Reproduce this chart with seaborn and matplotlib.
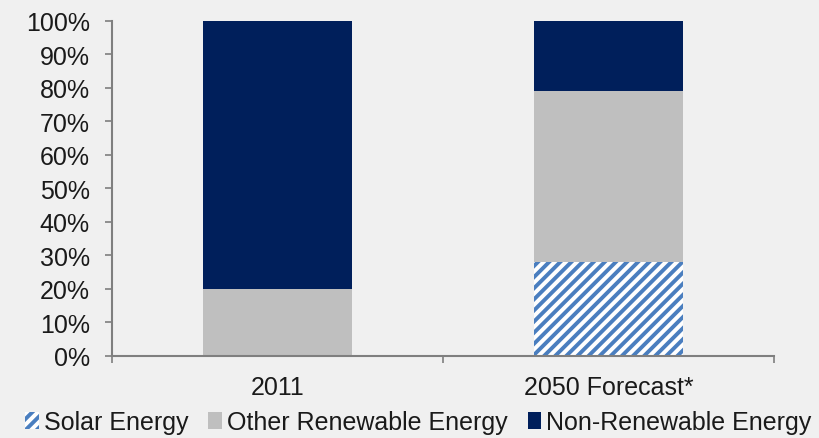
import matplotlib
matplotlib.use("Agg")
import matplotlib.pyplot as plt
import seaborn as sns
import pandas as pd
import numpy as np
from matplotlib.patches import Patch
from matplotlib.ticker import FuncFormatter

categories = ["2011", "2050 Forecast*"]
solar = [0, 28]
other_renewable = [20, 51]
non_renewable = [80, 21]
series_names = ["Solar Energy", "Other Renewable Energy", "Non-Renewable Energy"]

sns.set_theme(style="white")
plt.rcParams["font.family"] = ["Liberation Sans", "DejaVu Sans"]
plt.rcParams["hatch.linewidth"] = 2.8

BG = "#f0f0f0"
NAVY = "#001f5b"
GRAY = "#bfbfbf"
BLUE = "#4a7ebf"
TXT = "#1a1a1a"

df = pd.DataFrame({
    "category": categories,
    "solar": solar,
    "other": other_renewable,
    "non": non_renewable,
})
df["top_total"] = df["solar"] + df["other"] + df["non"]
df["mid_total"] = df["solar"] + df["other"]

fig = plt.figure(figsize=(8.2, 4.39), dpi=100, facecolor=BG)
ax = fig.add_axes([0.1366, 0.1868, 0.8073, 0.7631])
ax.set_facecolor(BG)

w = 0.45
sns.barplot(data=df, x="category", y="top_total", color=NAVY, width=w,
            saturation=1, ax=ax, linewidth=0)
sns.barplot(data=df, x="category", y="mid_total", color=GRAY, width=w,
            saturation=1, ax=ax, linewidth=0)
sns.barplot(data=df, x="category", y="solar", color="white", width=w,
            saturation=1, ax=ax, linewidth=0, hatch="///", edgecolor=BLUE)

ax.set_ylim(0, 100)
ax.set_xlim(-0.5, 1.5)
ax.set_yticks(np.arange(0, 101, 10))
ax.yaxis.set_major_formatter(FuncFormatter(lambda v, p: f"{int(v)}%"))
ax.set_xlabel("")
ax.set_ylabel("")

for s in ["top", "right"]:
    ax.spines[s].set_visible(False)
for s in ["left", "bottom"]:
    ax.spines[s].set_color("#7f7f7f")
    ax.spines[s].set_linewidth(1.5)

ax.tick_params(axis="y", which="major", direction="out", length=5, width=1.2,
               color="#7f7f7f", labelsize=18, labelcolor=TXT, pad=11, left=True)
ax.tick_params(axis="x", which="major", length=0, labelsize=18,
               labelcolor=TXT, pad=14)
ax.set_xticks([-0.5, 0.5, 1.5], minor=True)
ax.tick_params(axis="x", which="minor", direction="out", length=5, width=1.2,
               color="#7f7f7f", bottom=True)

handles = [
    Patch(facecolor="white", edgecolor=BLUE, hatch="///", linewidth=0),
    Patch(facecolor=GRAY, linewidth=0),
    Patch(facecolor=NAVY, linewidth=0),
]
fig.legend(handles, series_names, loc="center", bbox_to_anchor=(0.51, 0.036),
           ncol=3, frameon=False, fontsize=18, handlelength=0.55,
           handleheight=0.7, handletextpad=0.2, columnspacing=0.8,
           labelcolor=TXT, borderpad=0)

fig.savefig("out.png", dpi=100, facecolor=BG)
